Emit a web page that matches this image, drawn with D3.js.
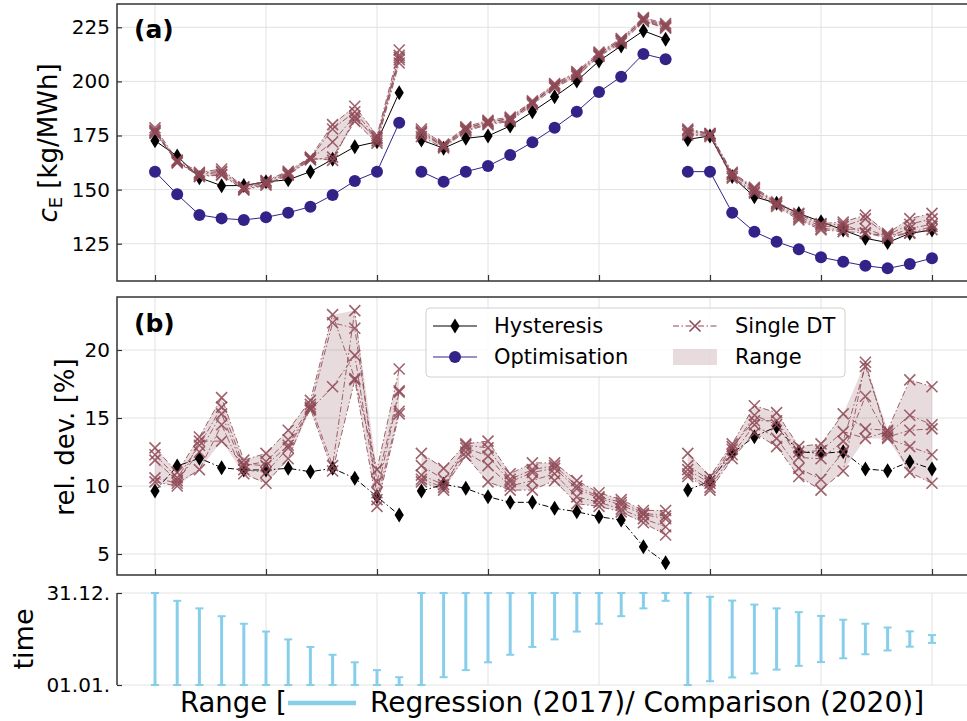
<!DOCTYPE html>
<html><head><meta charset="utf-8">
<script src="https://cdn.jsdelivr.net/npm/d3@7"></script>
<style>body{margin:0;background:#fff}svg{display:block;font-family:"DejaVu Sans",sans-serif}</style>
</head><body>
<svg id="chart" width="967" height="721"></svg>
<script>
// ---------------- DATA ----------------
const nPoints = 36;
const groups = [[0, 11], [12, 23], [24, 35]];
const xTickIdx = [0, 5, 10, 15, 20, 25, 30, 35];

const hystA = [172.6,165.5,155.5,151.8,151.9,153.6,154.5,158.3,164,169.8,172.1,194.8,
  172.9,169.1,173.7,174.8,179.4,186,192.9,200.2,209.4,216.4,223.4,219.5,
  173.2,174.8,156,146.7,143.7,139,135.2,131.3,127.5,125.5,129.8,131.3];
const optA = [158.3,147.8,138.3,136.7,136,137.2,139.3,142.1,147.5,154,158.3,180.9,
  158.3,153.6,158.3,160.9,166,171.9,178.6,186,195.1,202.2,212.7,210.2,
  158.3,158.3,139.3,130.5,125.9,122.4,118.7,116.7,114.8,113.6,115.6,118.3];
const singleDTa = [
  [178.5,163.7,158,159.5,151.3,154.2,158.5,165,180,188.5,175,214.5, 178,171,179,182,183.5,191,199,204.5,213.5,219.8,229.5,226.7, 178,176,158,151,144.3,139,134.3,135,138.2,129.8,136.6,139],
  [177.5,163,157,158,150.5,153.3,157.5,164.5,178,186,173.5,212, 177,170.5,178.5,181,183,190.5,198,203.5,213,219,229,226, 177,175.5,157,150,143.5,137.5,133,133,136.5,129,134,136.5],
  [176.5,162.5,156.3,157,150,152.5,157,164,172,184,172.5,210, 176,169.8,177.5,180.5,182,190,197.5,203,212,218.5,228,225, 176,175,156,149,142.8,136.8,132,131.5,132,128.2,132,134],
  [176,163.3,156,156.7,149.8,152,156.7,163.7,165,181.5,171.5,208.5, 174.5,169.2,177,180,181.5,189.2,197,202.3,211.5,217.7,227.7,224.6, 175.3,174.5,155.3,148.4,142.2,136,131.4,130.6,130,127.6,130,131.5],
  [177,162.3,157.5,158.5,151,153.8,158,164.8,163.5,183,174,211, 176.5,170,178,181.5,182.5,190,198.5,204,212.5,219.2,228.5,225.5, 177.5,175.8,157.5,150.5,143.8,138.5,133.8,134,129.8,128.8,129.9,133]
];

const hystB = [9.63,11.47,12.04,11.35,11.18,11.18,11.3,11.05,11.3,10.57,9.21,7.87,
  9.63,10.12,9.83,9.21,8.8,8.8,8.36,8.11,7.74,7.5,5.54,4.36,
  9.7,10.37,12.4,13.63,14.36,12.52,12.4,12.52,11.25,11.12,11.79,11.25];
const singleDTb = [
  [12.8,11.0,13.6,16.5,11.9,12.4,14.1,16.3,22.6,17.9,11.2,18.6, 12.4,11.3,13.1,13.3,10.9,11.7,11.7,10.4,9.5,9.0,8.2,8.2, 12.4,10.7,13.1,15.9,15.4,12.9,13.1,15.3,14.2,14.1,17.8,17.3],
  [12.3,10.6,13.0,15.8,11.5,11.8,13.4,15.8,22.0,21.6,10.3,17.0, 11.5,10.5,12.8,12.2,10.3,11.0,11.3,9.8,9.1,8.6,7.9,7.6, 11.2,10.2,12.7,15.2,14.5,12.1,12.0,13.3,18.8,13.8,15.2,14.5],
  [11.9,10.4,12.5,15.3,11.2,11.0,12.8,15.6,17.3,19.6,9.5,16.9, 10.8,10.1,12.5,11.5,10.0,10.4,10.9,9.2,8.8,8.3,7.6,7.0, 10.9,9.9,12.3,14.5,13.5,11.3,10.5,12.5,16.6,13.6,14.1,14.2],
  [10.6,10.2,11.2,14.5,10.9,10.2,12.0,16.0,11.5,22.9,9.0,15.5, 10.5,9.9,12.2,10.3,9.7,9.7,10.4,8.7,8.5,8.1,7.3,6.4, 10.7,9.7,12.0,13.9,12.9,10.7,9.7,11.1,19.1,13.5,12.9,12.3],
  [10.3,10.0,13.3,13.3,11.6,11.5,13.0,15.7,11.1,17.8,8.5,15.3, 10.3,9.7,13.0,12.8,10.5,11.2,11.5,10.0,9.2,8.8,8.0,7.8, 11.5,10.4,12.9,14.8,14.8,12.5,12.6,14.0,13.5,14.0,11.0,10.2]
];

// panel (c): day-of-year range of each data set
const rangeStart = [0,0,0,0,0,0,0,0,0,0,0,0,
  0,31,59,90,120,151,181,212,243,273,304,334,
  0,15,30,46,61,76,91,106,122,137,152,167];
const rangeEnd = [365,334,304,273,243,212,181,151,120,90,59,31,
  365,365,365,365,365,365,365,365,365,365,365,365,
  365,350,335,319,304,289,274,259,243,228,213,198];

const yTicksA = [125, 150, 175, 200, 225];
const yTicksB = [5, 10, 15, 20];
const yTicksC = [0, 365];
const yTickLabelsC = ["01.01.", "31.12."];

// ---------------- STYLE ----------------
const cDT = "#8e4956", cOpt = "#332288", cHyst = "#000", cBar = "#87ceeb";
const gridC = "#e2e2e2", spineC = "#333";
const L = 117, R = 968;

const svg = d3.select("#chart");
const x = d3.scaleLinear().domain([0, 35]).range([155, 932]);
const ya = d3.scaleLinear().domain([125, 225]).range([243.7, 27.3]);
const yb = d3.scaleLinear().domain([5, 20]).range([554, 350]);
const yc = d3.scaleLinear().domain([0, 365]).range([685, 593]);

const panels = [
  {y: ya, top: 4, bottom: 281, ticks: yTicksA},
  {y: yb, top: 297, bottom: 575, ticks: yTicksB}
];

const diamond = "M0,-7.5L4.6,0L0,7.5L-4.6,0Z";
const cross = "M-5.5,-5.5L5.5,5.5M-5.5,5.5L5.5,-5.5";

function gridAndFrame(p) {
  const g = svg.append("g");
  g.selectAll(".gx").data(xTickIdx).join("line")
    .attr("x1", d => x(d)).attr("x2", d => x(d)).attr("y1", p.top).attr("y2", p.bottom)
    .attr("stroke", gridC).attr("stroke-width", 1);
  g.selectAll(".gy").data(p.ticks).join("line")
    .attr("x1", L).attr("x2", R).attr("y1", d => p.y(d)).attr("y2", d => p.y(d))
    .attr("stroke", gridC).attr("stroke-width", 1);
}
function frame(p) {
  const g = svg.append("g");
  g.append("rect").attr("x", L).attr("y", p.top).attr("width", R - L).attr("height", p.bottom - p.top)
    .attr("fill", "none").attr("stroke", spineC).attr("stroke-width", 1.5);
  const ax = d3.axisLeft(p.y).tickValues(p.ticks).tickSize(-5).tickPadding(7).tickFormat(d3.format("d"));
  const ag = svg.append("g").attr("transform", `translate(${L},0)`).call(ax);
  ag.select(".domain").remove();
  ag.selectAll("line").attr("stroke", spineC).attr("stroke-width", 1.2);
  ag.selectAll("text").attr("font-size", 20).attr("font-family", "DejaVu Sans").attr("fill", "#000");
  const bx = d3.axisBottom(x).tickValues(xTickIdx).tickSize(-6).tickFormat("");
  const bg = svg.append("g").attr("transform", `translate(0,${p.bottom})`).call(bx);
  bg.select(".domain").remove();
  bg.selectAll("line").attr("stroke", spineC).attr("stroke-width", 1.2);
}

function drawSeries(y, hyst, opt, dts, hystDash) {
  groups.forEach(([a, b]) => {
    const ids = d3.range(a, b + 1);
    const area = d3.area().x(i => x(i))
      .y0(i => y(d3.min(dts, s => s[i]))).y1(i => y(d3.max(dts, s => s[i])));
    svg.append("path").attr("d", area(ids)).attr("fill", cDT).attr("fill-opacity", 0.2);
  });
  if (opt) {
    groups.forEach(([a, b]) => {
      const ids = d3.range(a, b + 1);
      svg.append("path").attr("d", d3.line().x(i => x(i)).y(i => y(opt[i]))(ids))
        .attr("fill", "none").attr("stroke", cOpt).attr("stroke-width", 1);
    });
    svg.append("g").selectAll("circle").data(d3.range(nPoints)).join("circle")
      .attr("cx", i => x(i)).attr("cy", i => y(opt[i])).attr("r", 6).attr("fill", cOpt);
  }
  groups.forEach(([a, b]) => {
    const ids = d3.range(a, b + 1);
    svg.append("path").attr("d", d3.line().x(i => x(i)).y(i => y(hyst[i]))(ids))
      .attr("fill", "none").attr("stroke", cHyst).attr("stroke-width", 1)
      .attr("stroke-dasharray", hystDash ? "6,2.5,1.5,2.5" : null);
  });
  svg.append("g").selectAll("path").data(d3.range(nPoints)).join("path")
    .attr("transform", i => `translate(${x(i)},${y(hyst[i])})`).attr("d", diamond).attr("fill", cHyst);
  dts.forEach(s => {
    groups.forEach(([a, b]) => {
      const ids = d3.range(a, b + 1);
      svg.append("path").attr("d", d3.line().x(i => x(i)).y(i => y(s[i]))(ids))
        .attr("fill", "none").attr("stroke", cDT).attr("stroke-width", 1).attr("stroke-opacity", 0.85)
        .attr("stroke-dasharray", "6,2.5,1.5,2.5");
    });
    svg.append("g").selectAll("path").data(d3.range(nPoints)).join("path")
      .attr("transform", i => `translate(${x(i)},${y(s[i])})`).attr("d", cross)
      .attr("fill", "none").attr("stroke", cDT).attr("stroke-width", 1.6).attr("stroke-opacity", 0.85);
  });
}

// Panel a
gridAndFrame(panels[0]);
drawSeries(ya, hystA, optA, singleDTa, false);
frame(panels[0]);
svg.append("text").attr("x", 134).attr("y", 38).attr("font-size", 25).attr("font-weight", "bold").text("(a)");
const la = svg.append("text").attr("transform", "translate(57,143) rotate(-90)")
  .attr("text-anchor", "middle").attr("font-size", 26);
la.append("tspan").attr("font-style", "italic").text("c");
la.append("tspan").attr("font-size", 18).attr("dy", 5).text("E");
la.append("tspan").attr("dy", -5).text(" [kg/MWh]");

// Panel b
gridAndFrame(panels[1]);
drawSeries(yb, hystB, null, singleDTb, true);
frame(panels[1]);
svg.append("text").attr("x", 134).attr("y", 332).attr("font-size", 25).attr("font-weight", "bold").text("(b)");
svg.append("text").attr("transform", "translate(74,437) rotate(-90)")
  .attr("text-anchor", "middle").attr("font-size", 26).text("rel. dev. [%]");

// Legend (b)
const lg = svg.append("g");
lg.append("rect").attr("x", 426).attr("y", 308).attr("width", 419).attr("height", 69).attr("rx", 4)
  .attr("fill", "#fff").attr("fill-opacity", 0.85).attr("stroke", "#d0d0d0").attr("stroke-width", 1);
lg.append("line").attr("x1", 433).attr("x2", 477).attr("y1", 326).attr("y2", 326).attr("stroke", cHyst).attr("stroke-width", 1);
lg.append("path").attr("transform", "translate(455,326)").attr("d", diamond).attr("fill", cHyst);
lg.append("text").attr("x", 494).attr("y", 333).attr("font-size", 21).text("Hysteresis");
lg.append("line").attr("x1", 433).attr("x2", 477).attr("y1", 357).attr("y2", 357).attr("stroke", cOpt).attr("stroke-width", 1);
lg.append("circle").attr("cx", 455).attr("cy", 357).attr("r", 6).attr("fill", cOpt);
lg.append("text").attr("x", 494).attr("y", 364).attr("font-size", 21).text("Optimisation");
lg.append("line").attr("x1", 673).attr("x2", 717).attr("y1", 326).attr("y2", 326).attr("stroke", cDT)
  .attr("stroke-width", 1).attr("stroke-dasharray", "6,2.5,1.5,2.5");
lg.append("path").attr("transform", "translate(695,326)").attr("d", cross).attr("fill", "none").attr("stroke", cDT).attr("stroke-width", 1.6);
lg.append("text").attr("x", 735).attr("y", 333).attr("font-size", 21).text("Single DT");
lg.append("rect").attr("x", 673).attr("y", 349).attr("width", 44).attr("height", 16).attr("fill", cDT).attr("fill-opacity", 0.2);
lg.append("text").attr("x", 735).attr("y", 364).attr("font-size", 21).text("Range");

// Panel c
const gc = svg.append("g");
gc.selectAll(".gx").data(xTickIdx).join("line")
  .attr("x1", d => x(d)).attr("x2", d => x(d)).attr("y1", 593).attr("y2", 685)
  .attr("stroke", gridC).attr("stroke-width", 1);
gc.selectAll(".gy").data(yTicksC).join("line")
  .attr("x1", L).attr("x2", R).attr("y1", d => yc(d)).attr("y2", d => yc(d))
  .attr("stroke", gridC).attr("stroke-width", 1);
const bars = svg.append("g").selectAll("g").data(d3.range(nPoints)).join("g");
bars.append("line").attr("x1", i => x(i)).attr("x2", i => x(i))
  .attr("y1", i => yc(rangeStart[i])).attr("y2", i => yc(rangeEnd[i]))
  .attr("stroke", cBar).attr("stroke-width", 3);
bars.append("line").attr("x1", i => x(i) - 4).attr("x2", i => x(i) + 4)
  .attr("y1", i => yc(rangeStart[i])).attr("y2", i => yc(rangeStart[i]))
  .attr("stroke", cBar).attr("stroke-width", 2);
bars.append("line").attr("x1", i => x(i) - 4).attr("x2", i => x(i) + 4)
  .attr("y1", i => yc(rangeEnd[i])).attr("y2", i => yc(rangeEnd[i]))
  .attr("stroke", cBar).attr("stroke-width", 2);
const axc = d3.axisLeft(yc).tickValues(yTicksC).tickSize(-5).tickPadding(7)
  .tickFormat((d, i) => yTickLabelsC[i]);
const agc = svg.append("g").attr("transform", `translate(${L},0)`).call(axc);
agc.select(".domain").attr("stroke", spineC).attr("stroke-width", 1.5).attr("d", `M0,${yc(0)}V${yc(365)}`);
agc.selectAll("line").attr("stroke", spineC).attr("stroke-width", 1.2);
agc.selectAll("text").attr("font-size", 20).attr("font-family", "DejaVu Sans").attr("fill", "#000");
svg.append("text").attr("transform", "translate(33,639) rotate(-90)")
  .attr("text-anchor", "middle").attr("font-size", 27).text("time");

// Bottom legend
svg.append("text").attr("x", 180).attr("y", 712).attr("font-size", 27.5).text("Range [");
svg.append("line").attr("x1", 288).attr("x2", 356).attr("y1", 703).attr("y2", 703).attr("stroke", cBar).attr("stroke-width", 4.5);
svg.append("text").attr("x", 370).attr("y", 712).attr("font-size", 28).text("Regression (2017)/ Comparison (2020)]");
</script>
</body></html>
